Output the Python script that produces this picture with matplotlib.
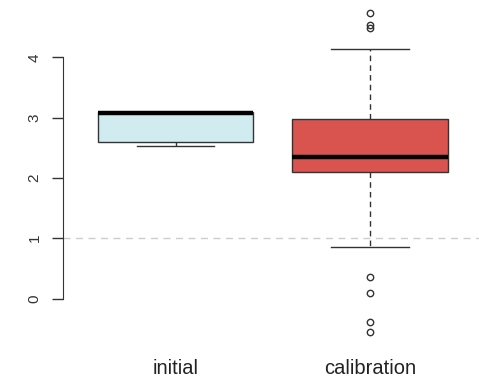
import matplotlib
matplotlib.use('Agg')
import matplotlib.pyplot as plt

# values
groups = ['initial', 'calibration']
box_low = [2.59, 2.09]
box_high = [3.10, 2.98]
medians = [3.07, 2.35]
whisker_low = [2.53, 0.85]
whisker_high = [3.10, 4.14]
outliers = [[], [4.74, 4.53, 4.48, 0.35, 0.09, -0.39, -0.56]]
colors = ['#d1ecf1', '#d9534f']
yticks = [0, 1, 2, 3, 4]

plt.rcParams['font.family'] = ['Liberation Sans', 'DejaVu Sans']

fig = plt.figure(figsize=(4.79, 3.78), dpi=100)
ax = fig.add_axes([63 / 479, 1 - 345 / 378, (482.5 - 63) / 479, 345 / 378])

stats = []
for i in range(len(groups)):
    stats.append(dict(med=medians[i], q1=box_low[i], q3=box_high[i],
                      whislo=whisker_low[i], whishi=whisker_high[i],
                      fliers=outliers[i], label=groups[i]))

bp = ax.bxp(stats, positions=[1, 2], widths=0.8, patch_artist=True,
            boxprops=dict(edgecolor='#333333', linewidth=1),
            medianprops=dict(color='black', linewidth=3.2, solid_capstyle='butt'),
            whiskerprops=dict(color='#333333', linewidth=1, linestyle=(0, (4, 3))),
            capprops=dict(color='#333333', linewidth=1),
            capwidths=0.4,
            flierprops=dict(marker='o', markersize=4.6, markerfacecolor='none',
                            markeredgecolor='#333333', markeredgewidth=1))
for patch, c in zip(bp['boxes'], colors):
    patch.set_facecolor(c)

ax.axhline(1, color='#cccccc', linewidth=1, linestyle=(0, (5, 4)), zorder=0)

ax.set_xlim(0.42, 2.58)
ax.set_ylim(-0.77, 4.95)

for s in ['top', 'right', 'bottom']:
    ax.spines[s].set_visible(False)
ax.spines['left'].set_bounds(0, 4)
ax.spines['left'].set_color('#333333')

ax.set_yticks(yticks)
ax.set_yticklabels([str(t) for t in yticks], rotation=90, va='center')
ax.tick_params(axis='y', length=8, width=1, color='#333333', pad=7.5,
               labelsize=11, labelcolor='#333333')
ax.tick_params(axis='x', length=0, pad=10, labelsize=14.5, labelcolor='#222222')

fig.savefig('out.png', dpi=100)
